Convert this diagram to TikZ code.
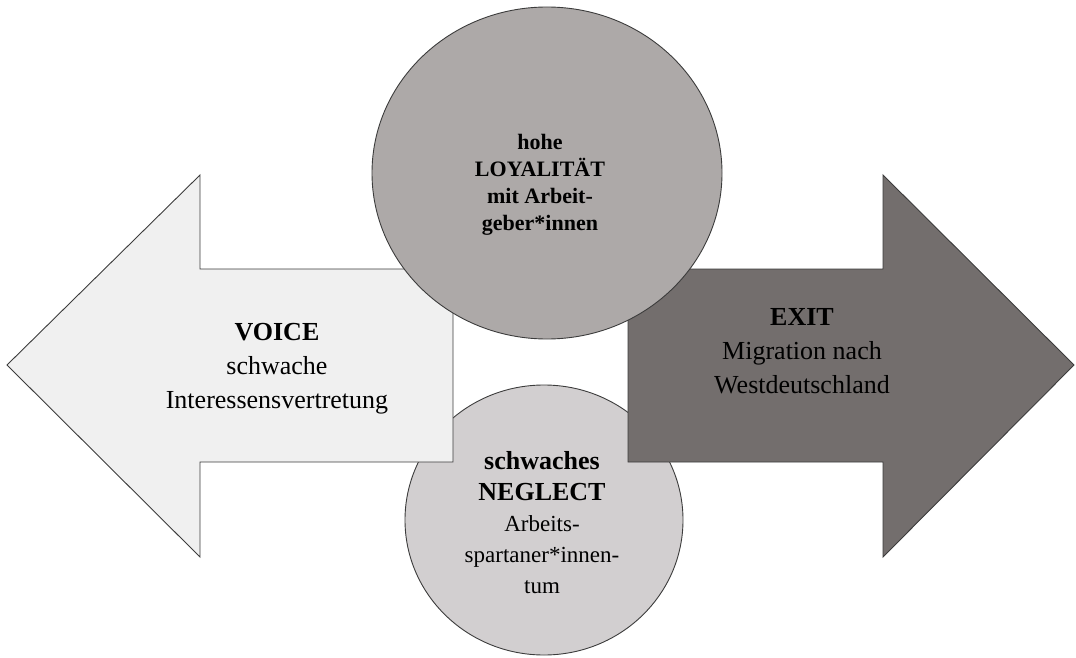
\documentclass[tikz,border=0pt]{standalone}
\usepackage{fontspec}
\setmainfont{Liberation Serif}
\definecolor{voicegray}{HTML}{F0F0F0}
\definecolor{exitgray}{HTML}{736E6D}
\definecolor{loyalgray}{HTML}{ADA9A8}
\definecolor{neglectgray}{HTML}{D2CFD0}
\definecolor{edgegray}{HTML}{3C3C3C}

\begin{document}
\begin{tikzpicture}[x=1pt, y=-1pt, line width=0.9pt]
    \useasboundingbox (0, 0) rectangle (1076, 658);

    \filldraw[fill=neglectgray, draw=edgegray] (544, 520) ellipse [x radius=139, y radius=135];

    \filldraw[fill=voicegray, draw=edgegray] (453, 269) -- (200, 269) -- (200, 175) -- (7, 365) -- (200, 557) -- (200, 462) -- (453, 462) -- cycle;
    \filldraw[fill=exitgray, draw=edgegray] (628, 269) -- (883, 269) -- (883, 175) -- (1074, 365) -- (883, 557) -- (883, 462) -- (628, 462) -- cycle;

    \filldraw[fill=loyalgray, draw=edgegray] (547, 173) ellipse [x radius=175, y radius=166];

    \begin{scope}[align=center]
      \node[font=\fontsize{26}{34}\selectfont] (voice) at (277, 369) {\textbf{VOICE}\\schwache\\Interessensvertretung};
      \node[font=\fontsize{26}{34}\selectfont] (exit) at (802, 351) {\textbf{EXIT}\\Migration nach\\Westdeutschland};
      \node[font=\bfseries\fontsize{22}{27}\selectfont] (loyal) at (540, 185) {hohe\\LOYALITÄT\\mit Arbeit-\\geber*innen};
      \node[font=\fontsize{23}{31}\selectfont] (neglect) at (542, 523) {{\bfseries\fontsize{26}{33}\selectfont schwaches}\\{\bfseries\fontsize{26}{33}\selectfont NEGLECT}\\Arbeits-\\spartaner*innen-\\tum};
    \end{scope}
\end{tikzpicture}
\end{document}
